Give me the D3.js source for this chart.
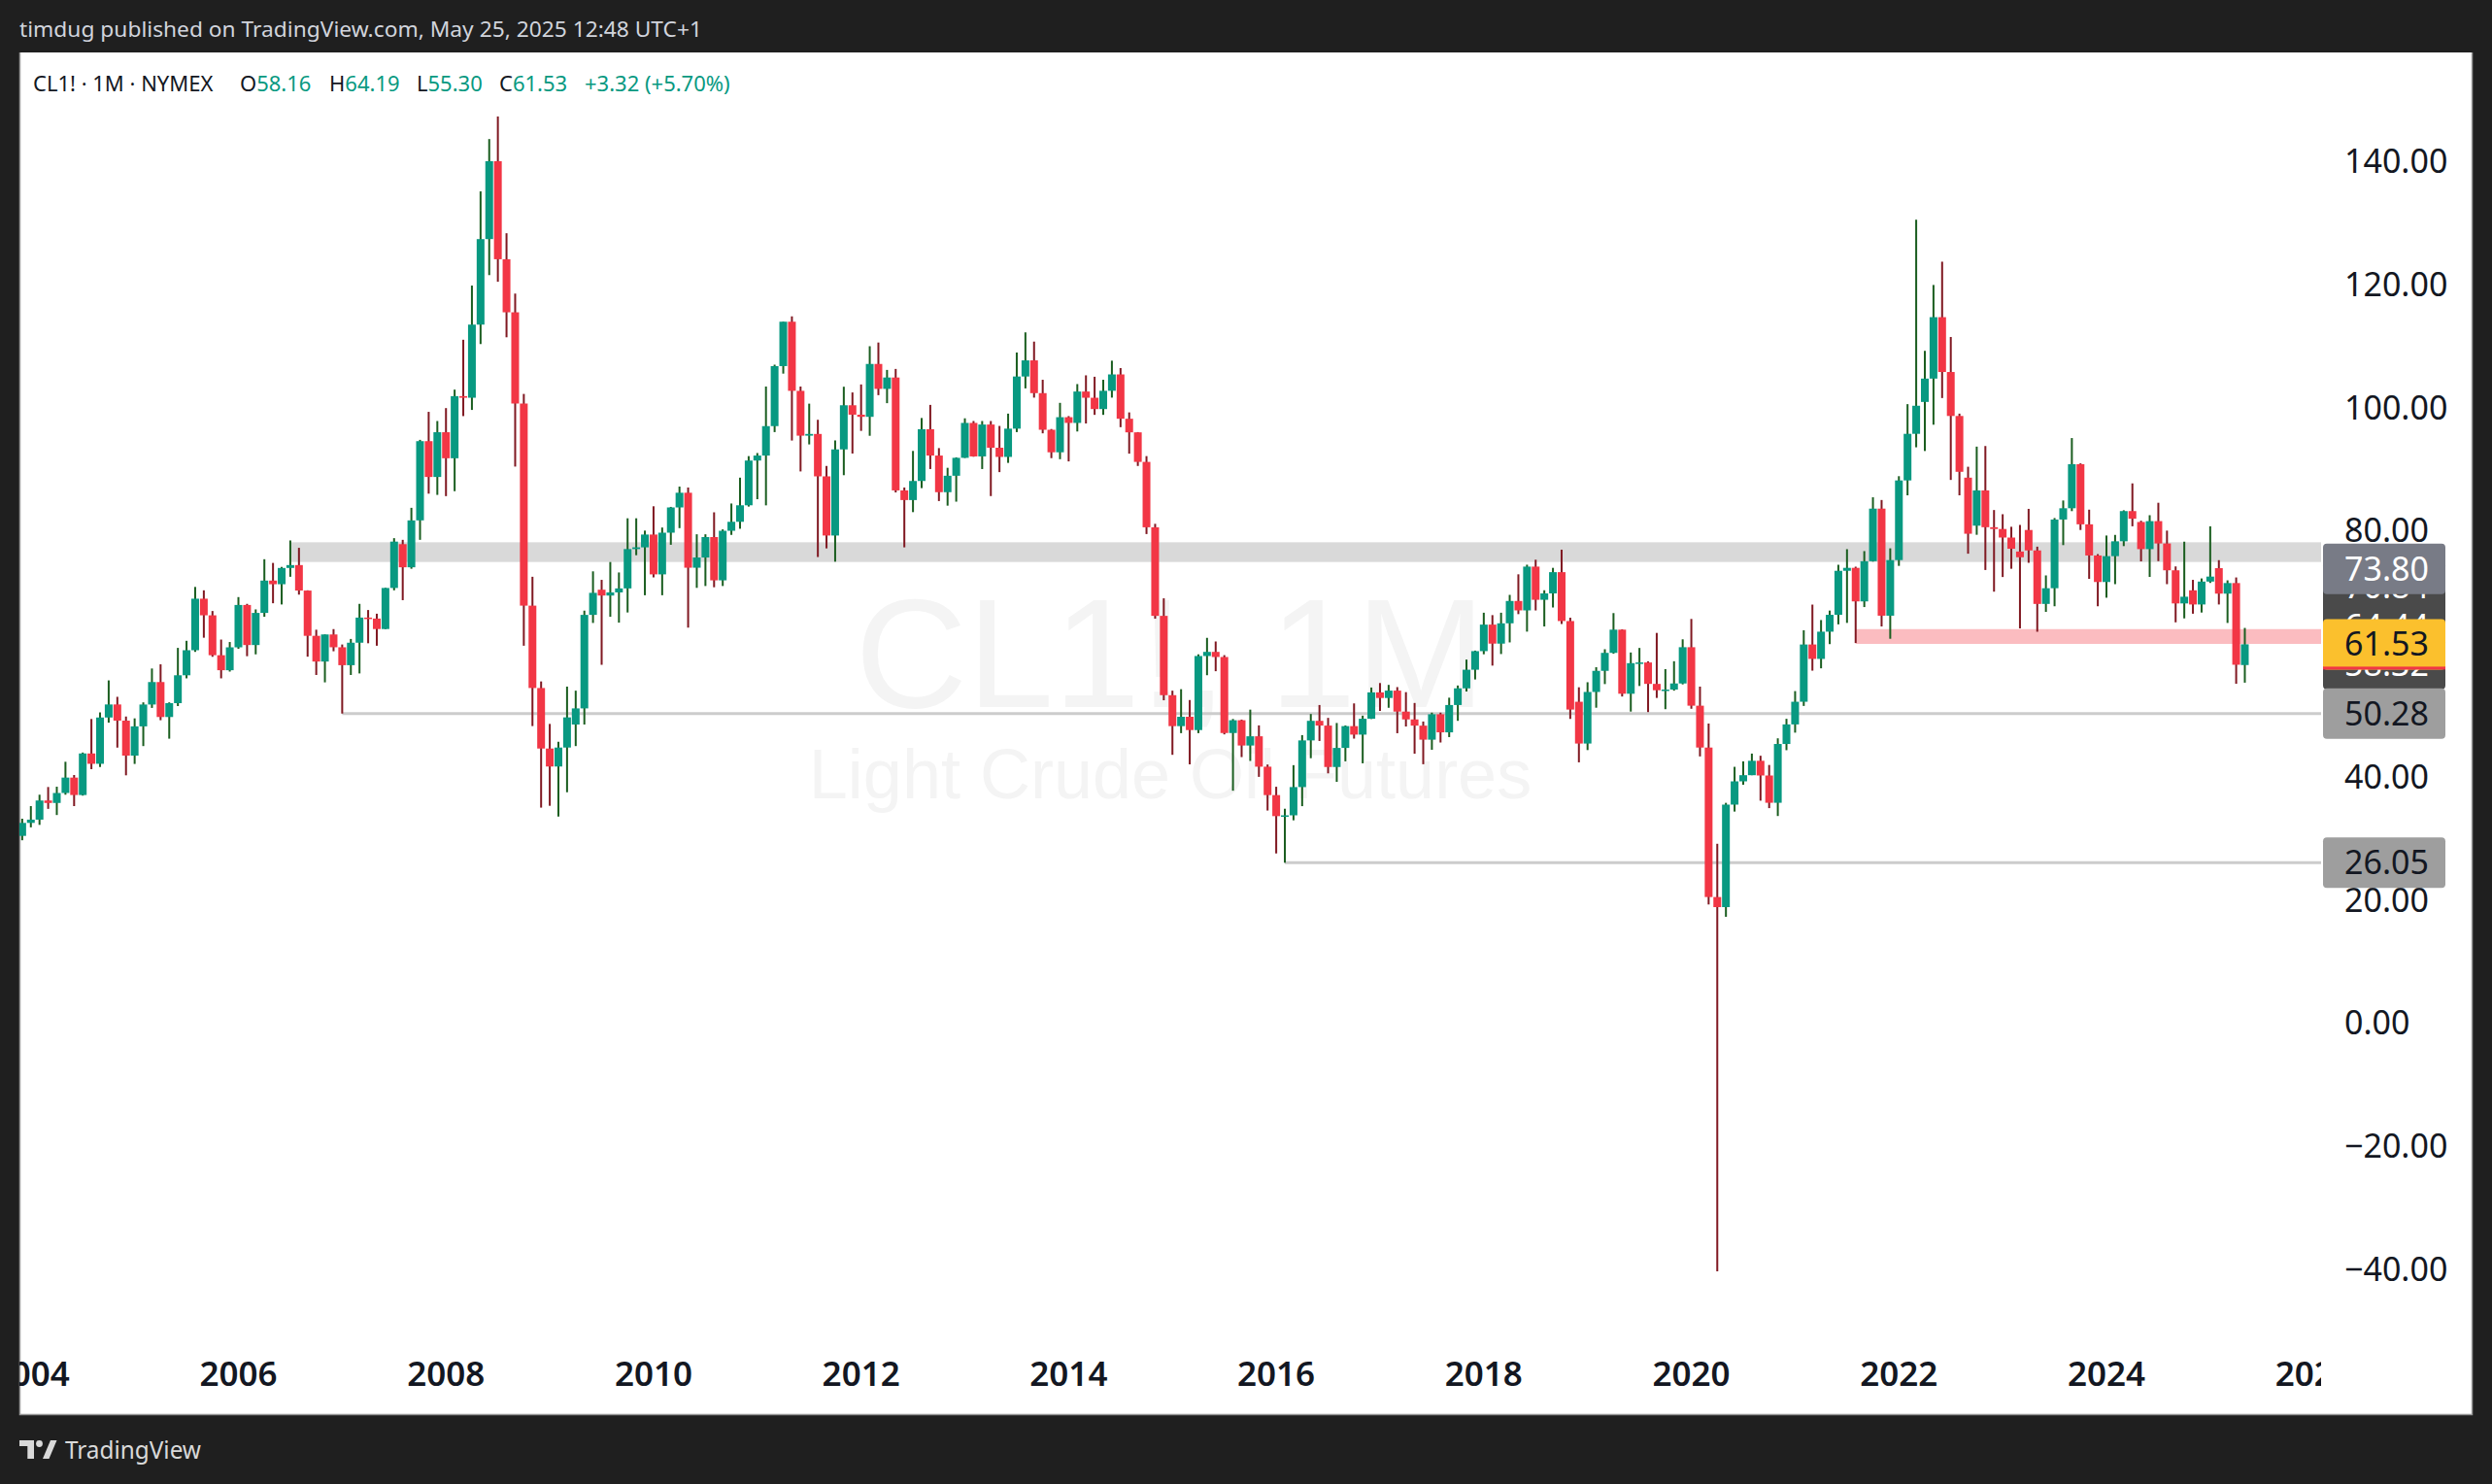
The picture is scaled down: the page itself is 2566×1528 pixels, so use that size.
<!DOCTYPE html>
<html><head><meta charset="utf-8">
<script src="https://cdn.jsdelivr.net/npm/d3@7"></script>
<style>html,body{margin:0;padding:0;background:#1f1f1f;overflow:hidden}</style>
</head><body>
<svg id="c" width="2566" height="1528" xmlns="http://www.w3.org/2000/svg"></svg>
<script>
// ---------------- DATA (CL1! monthly, first bar = Dec 2003) ----------------
const firstMonth = [2003, 12];
const opens = [
  30.41,
  32.52,33.05,36.16,35.76,37.38,39.88,37.05,43.80,42.12,49.64,51.76,49.13,
  43.45,48.20,51.75,55.40,49.72,51.97,56.50,60.57,68.94,66.24,59.76,57.32,
  61.04,67.92,61.41,66.63,71.88,71.29,73.93,74.40,70.26,62.91,58.73,63.13,
  61.05,58.14,61.79,65.87,65.71,64.01,70.68,77.80,74.04,81.66,94.53,88.71,
  95.98,91.75,101.84,101.58,113.46,127.35,140.00,124.08,115.46,100.64,67.81,54.43,
  44.60,41.68,44.76,48.50,51.12,66.31,70.40,69.45,69.96,70.61,77.00,77.28,
  79.36,72.89,79.66,83.76,86.15,73.97,75.63,78.95,71.92,79.97,81.43,84.11,
  91.38,92.19,96.97,106.72,113.93,102.70,95.42,95.70,88.81,79.20,93.19,100.36,
  98.83,98.48,107.07,103.02,104.87,86.53,84.96,88.06,96.47,92.19,86.24,88.91,
  91.82,97.49,92.05,97.23,93.46,91.97,96.56,105.03,107.65,102.33,96.38,92.72,
  98.42,97.49,102.59,101.58,99.74,102.71,105.37,98.17,95.96,91.16,80.54,66.15,
  53.27,48.24,49.76,47.60,59.63,60.30,59.47,47.12,49.20,45.09,46.59,41.65,
  37.04,33.62,33.75,38.34,45.92,49.10,48.33,41.60,44.70,48.24,46.86,49.44,
  53.72,52.81,54.01,50.60,49.33,48.32,46.04,50.17,47.23,51.67,54.38,57.40,
  60.42,64.73,61.64,64.94,68.57,67.04,74.15,68.76,69.80,73.25,65.31,52.20,
  45.41,53.79,57.22,60.14,63.91,53.50,58.47,58.58,55.10,54.07,54.18,55.17,
  61.06,51.56,44.76,20.48,18.84,35.49,39.27,40.27,42.61,40.22,35.79,45.34,
  48.52,52.20,61.50,59.16,63.58,66.32,73.47,73.95,68.50,75.03,83.57,66.18,
  75.21,88.15,95.72,100.90,104.69,114.67,105.76,98.62,88.60,80.80,86.53,80.55,
  80.26,78.87,76.60,80.10,76.78,68.09,70.64,81.80,83.63,90.79,81.02,75.96,
  71.65,75.85,78.26,83.17,81.40,76.99,81.54,77.91,73.55,68.17,70.30,68.00,
  71.72,73.90,69.76,71.48,58.16
];
const highs = [
  33.20,
  35.25,37.10,38.35,38.40,42.45,40.30,43.95,49.40,50.47,55.67,53.00,49.80,
  49.50,52.10,57.60,58.28,52.10,60.95,62.10,70.85,70.30,66.94,62.30,61.90,
  69.20,68.10,67.20,75.35,74.75,74.10,78.40,77.20,70.30,63.90,62.70,64.00,
  61.50,62.40,68.10,67.10,66.50,70.70,78.77,78.50,83.70,94.74,99.29,97.80,
  99.90,102.90,111.00,119.80,135.10,143.60,147.27,128.30,118.50,102.20,72.50,55.50,
  48.60,45.70,54.66,54.00,67.00,73.38,72.00,74.90,73.20,82.00,82.00,80.00,
  83.95,80.50,83.85,87.15,87.00,79.40,79.40,82.97,80.20,84.40,88.60,92.10,
  92.60,103.40,106.95,113.93,114.80,103.40,100.62,98.00,90.50,94.65,103.37,102.44,
  103.74,109.95,110.55,106.10,106.26,87.00,92.94,98.29,100.42,93.40,90.20,91.90,
  98.24,97.80,97.80,97.80,97.00,99.00,108.93,112.20,110.70,104.50,96.50,100.75,
  98.60,103.80,105.22,104.99,104.50,107.60,106.40,99.20,96.00,92.10,81.10,69.00,
  54.00,54.24,52.48,59.90,62.58,61.99,59.77,49.40,49.30,50.92,48.36,42.00,
  38.39,34.82,41.90,46.78,50.21,51.67,49.58,48.75,48.35,51.93,49.94,54.51,
  55.24,54.94,54.58,53.76,52.00,48.99,50.43,50.43,52.86,54.84,59.05,60.51,
  66.66,66.27,66.66,69.56,72.90,74.46,75.27,70.31,73.95,76.90,65.85,54.55,
  55.37,57.81,60.73,66.60,63.97,60.20,60.94,58.76,63.38,57.50,58.78,62.34,
  65.65,54.66,48.66,29.13,35.78,41.63,42.52,43.78,43.43,41.93,46.26,49.43,
  53.93,63.81,67.98,65.47,67.01,74.45,76.98,74.14,76.67,85.41,84.97,77.12,
  88.84,100.54,130.50,109.20,119.90,123.68,111.45,99.00,90.37,93.64,93.74,83.34,
  82.66,80.62,80.92,83.53,77.39,72.72,82.04,84.89,95.03,90.92,83.40,76.18,
  79.20,79.30,83.30,87.67,81.60,82.50,84.52,80.00,74.18,78.20,72.00,72.23,
  80.70,75.20,71.92,72.39,64.19
];
const lows = [
  29.70,
  31.80,32.20,34.80,33.80,37.10,35.25,36.95,41.25,41.60,48.80,44.75,40.25,
  42.10,45.00,51.20,49.20,46.20,51.50,56.00,60.30,62.60,59.50,56.00,57.10,
  60.80,59.60,59.90,66.00,68.20,68.00,72.50,69.60,59.52,56.55,55.35,60.40,
  50.28,56.55,56.80,61.70,61.30,64.00,70.30,68.70,73.80,78.50,86.00,85.80,
  85.60,86.40,98.60,99.60,110.30,121.50,120.42,111.40,90.40,61.30,48.25,35.00,
  35.30,33.55,37.50,45.00,48.50,65.00,58.20,66.00,65.05,66.70,76.00,69.50,
  72.40,69.50,77.70,80.40,64.24,70.70,71.00,70.80,71.00,79.30,80.30,83.90,
  85.10,84.10,96.00,105.50,94.63,89.61,94.00,75.71,77.11,74.95,89.00,92.52,
  96.20,95.40,102.00,100.70,86.20,77.28,83.00,86.90,90.00,84.80,84.05,84.70,
  91.80,92.00,90.00,85.61,89.50,91.00,96.00,103.10,101.60,95.80,91.77,91.60,
  91.24,96.10,97.40,98.80,98.80,101.60,96.80,92.50,90.50,79.44,65.69,52.44,
  43.58,47.10,42.03,47.10,56.51,57.16,46.90,37.75,43.21,42.58,40.00,34.53,
  27.56,26.05,32.94,35.24,43.03,45.83,40.57,39.19,42.52,46.21,42.20,49.40,
  50.71,51.22,47.09,48.18,43.76,42.05,44.40,45.58,46.46,49.10,53.86,55.82,
  59.91,58.07,59.95,61.84,66.43,63.59,67.03,64.43,67.51,64.83,49.41,42.36,
  44.35,51.23,55.07,60.00,53.05,50.60,54.76,50.52,52.82,50.99,54.00,55.02,
  51.06,43.32,19.27,-40.32,17.27,34.36,38.72,40.27,36.13,34.92,33.64,44.33,
  47.18,51.52,57.25,57.63,61.56,64.77,65.01,61.74,67.58,74.96,64.43,62.43,
  74.27,85.73,93.53,92.93,97.20,101.53,88.23,85.73,76.25,79.32,73.60,70.08,
  72.46,73.80,64.12,74.77,63.57,66.80,67.71,77.64,83.16,80.10,72.16,67.71,
  69.10,71.30,77.48,80.70,75.00,72.48,75.04,71.30,65.10,65.74,66.50,66.69,
  71.50,68.00,65.00,55.12,55.30
];
const closes = [
  32.52,
  33.05,36.16,35.76,37.38,39.88,37.05,43.80,42.12,49.64,51.76,49.13,43.45,
  48.20,51.75,55.40,49.72,51.97,56.50,60.57,68.94,66.24,59.76,57.32,61.04,
  67.92,61.41,66.63,71.88,71.29,73.93,74.40,70.26,62.91,58.73,63.13,61.05,
  58.14,61.79,65.87,65.71,64.01,70.68,78.21,74.04,81.66,94.53,88.71,95.98,
  91.75,101.84,101.58,113.46,127.35,140.00,124.08,115.46,100.64,67.81,54.43,44.60,
  41.68,44.76,49.66,51.12,66.31,69.89,69.45,69.96,70.61,77.00,77.28,79.36,
  72.89,79.66,83.76,86.15,73.97,75.63,78.95,71.92,79.97,81.43,84.11,91.38,
  92.19,96.97,106.72,113.93,102.70,95.42,95.70,88.81,79.20,93.19,100.36,98.83,
  98.48,107.07,103.02,104.87,86.53,84.96,88.06,96.47,92.19,86.24,88.91,91.82,
  97.49,92.05,97.23,93.46,91.97,96.56,105.03,107.65,102.33,96.38,92.72,98.42,
  97.49,102.59,101.58,99.74,102.71,105.37,98.17,95.96,91.16,80.54,66.15,53.27,
  48.24,49.76,47.60,59.63,60.30,59.47,47.12,49.20,45.09,46.59,41.65,37.04,
  33.62,33.75,38.34,45.92,49.10,48.33,41.60,44.70,48.24,46.86,49.44,53.72,
  52.81,54.01,50.60,49.33,48.32,46.04,50.17,47.23,51.67,54.38,57.40,60.42,
  64.73,61.64,64.94,68.57,67.04,74.15,68.76,69.80,73.25,65.31,50.93,45.41,
  53.79,57.22,60.14,63.91,53.50,58.47,58.58,55.10,54.07,54.18,55.17,61.06,
  51.56,44.76,20.48,18.84,35.49,39.27,40.27,42.61,40.22,35.79,45.34,48.52,
  52.20,61.50,59.16,63.58,66.32,73.47,73.95,68.50,75.03,83.57,66.18,75.21,
  88.15,95.72,100.28,104.69,114.67,105.76,98.62,89.55,79.49,86.53,80.55,80.26,
  78.87,77.05,75.67,76.78,68.09,70.64,81.80,83.63,90.79,81.02,75.96,71.65,
  75.85,78.26,83.17,81.93,76.99,81.54,77.91,73.55,68.17,69.26,68.00,71.72,
  72.53,69.76,71.48,58.21,61.53
];
const priceTicks = [140, 120, 100, 80, 60, 40, 20, 0, -20, -40];
const yearTicks = [2004, 2006, 2008, 2010, 2012, 2014, 2016, 2018, 2020, 2022, 2024, 2026];
// horizontal levels: value, start month
const levelLines = [ {value: 50.28, from: [2007, 1]}, {value: 26.05, from: [2016, 2]} ];
const zones = [ {lo: 74.9, hi: 78.1, from: [2006, 7], kind: 'gray'}, {lo: 61.6, hi: 64.0, from: [2021, 8], kind: 'pink'} ];
const axisLabels = [
  {value: 70.84, kind: 'dark'}, {value: 64.44, kind: 'dark'}, {value: 58.32, kind: 'dark'},
  {value: 50.28, kind: 'level'}, {value: 26.05, kind: 'level'},
  {value: 73.80, kind: 'zone'}, {value: 61.53, kind: 'last'}
];
const legendParts = [
  {t: 'CL1! · 1M · NYMEX', c: 'k', pos: 0}, {t: 'O', c: 'k', pos: 1}, {t: '58.16', c: 'g'},
  {t: 'H', c: 'k', pos: 2}, {t: '64.19', c: 'g'}, {t: 'L', c: 'k', pos: 3}, {t: '55.30', c: 'g'},
  {t: 'C', c: 'k', pos: 4}, {t: '61.53', c: 'g'}, {t: '+3.32 (+5.70%)', c: 'g', pos: 5}
];

// ---------------- LAYOUT ----------------
const W = 2566, H = 1528;
const frame = {x: 20, y: 54, r: 2546, b: 1457};
const plotR = 2390;
const UP = '#089981', DN = '#f23645', UPW = '#1b5e20', DNW = '#801922';
const svg = d3.select('#c');
const idx = (yr, m) => (yr - 2006) * 12 + (m - 1);
const x = d3.scaleLinear().domain([0, 216]).range([245.5, 2169]);
const y = d3.scaleLinear().domain([-40, 140]).range([1307, 166]);
const startIdx = idx(firstMonth[0], firstMonth[1]);
const bars = closes.map((c, k) => ({i: startIdx + k, o: opens[k], h: highs[k], l: lows[k], c}));

svg.append('rect').attr('width', W).attr('height', H).attr('fill', '#1f1f1f');
svg.append('rect').attr('x', frame.x).attr('y', frame.y).attr('width', frame.r - frame.x).attr('height', frame.b - frame.y)
  .attr('fill', '#ffffff');
svg.append('path').attr('d', `M${frame.x + .5},${frame.y}V${frame.b - .5}H${frame.r - .5}V${frame.y}`)
  .attr('fill', 'none').attr('stroke', '#9a9a9a').attr('stroke-width', 1.5);

// header
svg.append('text').attr('x', 20).attr('y', 38).attr('font-family', 'Noto Sans').attr('font-size', 22)
  .attr('fill', '#d1d4dc').attr('textLength', 703).attr('lengthAdjust', 'spacingAndGlyphs')
  .text('timdug published on TradingView.com, May 25, 2025 12:48 UTC+1');

const defs = svg.append('defs');
defs.append('clipPath').attr('id', 'plot').append('rect')
  .attr('x', frame.x).attr('y', frame.y).attr('width', plotR - frame.x).attr('height', frame.b - frame.y);

const plot = svg.append('g').attr('clip-path', 'url(#plot)');

// watermark
plot.append('text').attr('x', 1205).attr('y', 728).attr('text-anchor', 'middle')
  .attr('font-family', 'Liberation Sans, Arial').attr('font-size', 160).attr('fill', '#f4f4f4').text('CL1!, 1M');
plot.append('text').attr('x', 1205).attr('y', 822).attr('text-anchor', 'middle')
  .attr('font-family', 'Liberation Sans, Arial').attr('font-size', 72).attr('fill', '#f4f4f4').text('Light Crude Oil Futures');

// zones & levels
plot.selectAll('rect.zone').data(zones).enter().append('rect').attr('class', 'zone')
  .attr('x', d => x(idx(d.from[0], d.from[1]))).attr('y', d => y(d.hi))
  .attr('width', d => plotR - x(idx(d.from[0], d.from[1]))).attr('height', d => y(d.lo) - y(d.hi))
  .attr('fill', d => d.kind === 'gray' ? '#d9d9d9' : '#fbbcc0');
plot.selectAll('line.lvl').data(levelLines).enter().append('line').attr('class', 'lvl')
  .attr('x1', d => x(idx(d.from[0], d.from[1]))).attr('x2', plotR)
  .attr('y1', d => y(d.value)).attr('y2', d => y(d.value))
  .attr('stroke', '#cccccc').attr('stroke-width', 3);

// candles
const bw = 8, ww = 2;
const g = plot.append('g');
g.selectAll('rect.wick').data(bars).enter().append('rect').attr('class', 'wick')
  .attr('x', d => x(d.i) - ww / 2).attr('width', ww)
  .attr('y', d => y(Math.max(d.h, d.o, d.c)))
  .attr('height', d => Math.max(1, y(Math.min(d.l, d.o, d.c)) - y(Math.max(d.h, d.o, d.c))))
  .attr('fill', d => d.c >= d.o ? UPW : DNW);
g.selectAll('rect.body').data(bars).enter().append('rect').attr('class', 'body')
  .attr('x', d => x(d.i) - bw / 2).attr('width', bw)
  .attr('y', d => y(Math.max(d.o, d.c)))
  .attr('height', d => Math.max(1.5, Math.abs(y(d.o) - y(d.c))))
  .attr('fill', d => d.c >= d.o ? UP : DN);

// time axis
plot.selectAll('text.yr').data(yearTicks).enter().append('text').attr('class', 'yr')
  .attr('x', d => x(idx(d, 1))).attr('y', 1427).attr('text-anchor', 'middle')
  .attr('font-family', 'Noto Sans').attr('font-weight', 600).attr('font-size', 35).attr('fill', '#131722')
  .text(d => d);

// price axis
const fmt = v => (v < 0 ? '\u2212' : '') + Math.abs(v).toFixed(2);
svg.selectAll('text.pt').data(priceTicks).enter().append('text').attr('class', 'pt')
  .attr('x', 2414).attr('y', d => y(d) + 12).attr('font-family', 'Noto Sans').attr('font-size', 34)
  .attr('fill', '#131722').text(fmt);

const boxStyle = {
  dark: {fill: '#4a4a4a', text: '#ffffff'}, level: {fill: '#9e9e9e', text: '#131722'},
  zone: {fill: '#787b86', text: '#ffffff'}, last: {fill: '#fbc02d', text: '#131722'}
};
const lab = svg.selectAll('g.lab').data(axisLabels).enter().append('g').attr('class', 'lab');
lab.append('rect').attr('x', 2392).attr('width', 126).attr('y', d => y(d.value) - 26).attr('height', 52).attr('rx', 4)
  .attr('fill', d => boxStyle[d.kind].fill);
lab.filter(d => d.kind === 'last').append('rect').attr('x', 2392).attr('width', 126)
  .attr('y', d => y(d.value) + 23).attr('height', 3).attr('fill', DN);
lab.append('text').attr('x', 2414).attr('y', d => y(d.value) + 12).attr('font-family', 'Noto Sans').attr('font-size', 34)
  .attr('fill', d => boxStyle[d.kind].text).text(d => d.value.toFixed(2));

// legend
const legX = [34, 247, 339, 429, 514, 602];
const leg = svg.append('text').attr('y', 94).attr('font-family', 'Noto Sans').attr('font-size', 22);
leg.selectAll('tspan').data(legendParts).enter().append('tspan')
  .attr('x', d => d.pos === undefined ? null : legX[d.pos])
  .attr('fill', d => d.c === 'g' ? UP : '#131722').text(d => d.t);

// footer logo
const foot = svg.append('g').attr('fill', '#d9d9d9');
foot.append('path').attr('d', 'M20,1483H35V1502H28.3V1489H20Z');
foot.append('circle').attr('cx', 40.5).attr('cy', 1486.5).attr('r', 3.4);
foot.append('path').attr('d', 'M44,1502H50.5L58.5,1483H52Z');
foot.append('text').attr('x', 67).attr('y', 1502).attr('font-family', 'Noto Sans').attr('font-size', 25)
  .attr('textLength', 140).attr('lengthAdjust', 'spacingAndGlyphs').text('TradingView');
</script>
</body></html>
